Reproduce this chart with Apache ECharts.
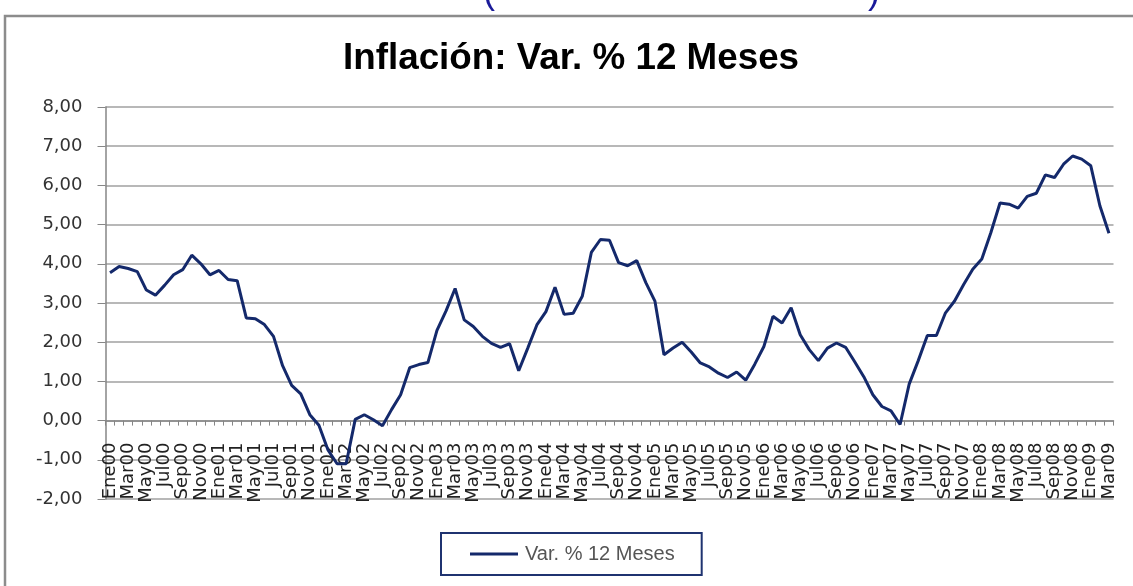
<!DOCTYPE html>
<html>
<head>
<meta charset="utf-8">
<title>Inflación: Var. % 12 Meses</title>
<script src="https://cdn.jsdelivr.net/npm/echarts@6/dist/echarts.min.js"></script>
<style>
  html, body { margin: 0; padding: 0; background: #fff; }
  #main { width: 1133px; height: 586px; }
</style>
</head>
<body>
<div id="main"></div>
<script>
// meses (etiquetas del eje x)
var meses = ["Ene", "Feb", "Mar", "Abr", "May", "Jun", "Jul", "Ago", "Sep", "Oct", "Nov", "Dic"];
var anios = ["00", "01", "02", "03", "04", "05", "06", "07", "08", "09"];

// variacion % 12 meses, un arreglo por año
var v2000 = [3.77, 3.93, 3.88, 3.80, 3.33, 3.20, 3.45, 3.72, 3.85, 4.22, 4.00, 3.72];
var v2001 = [3.83, 3.60, 3.57, 2.62, 2.60, 2.45, 2.15, 1.40, 0.90, 0.68, 0.15, -0.12];
var v2002 = [-0.75, -1.10, -1.10, 0.03, 0.15, 0.02, -0.13, 0.28, 0.66, 1.35, 1.43, 1.48];
var v2003 = [2.30, 2.80, 3.37, 2.57, 2.40, 2.15, 1.97, 1.87, 1.96, 1.27, 1.85, 2.44];
var v2004 = [2.78, 3.40, 2.71, 2.74, 3.17, 4.29, 4.62, 4.60, 4.03, 3.95, 4.08, 3.52];
var v2005 = [3.05, 1.68, 1.85, 2.00, 1.75, 1.47, 1.37, 1.21, 1.10, 1.24, 1.03, 1.44];
var v2006 = [1.89, 2.66, 2.49, 2.88, 2.19, 1.81, 1.53, 1.85, 1.98, 1.87, 1.50, 1.12];
var v2007 = [0.66, 0.36, 0.25, -0.10, 0.93, 1.53, 2.17, 2.17, 2.75, 3.05, 3.47, 3.86];
var v2008 = [4.12, 4.80, 5.55, 5.52, 5.42, 5.72, 5.80, 6.27, 6.20, 6.54, 6.75, 6.67];
var v2009 = [6.50, 5.48, 4.78];

var yTicks = [-2, -1, 0, 1, 2, 3, 4, 5, 6, 7, 8];

var valores = [].concat(v2000, v2001, v2002, v2003, v2004, v2005, v2006, v2007, v2008, v2009);
var categorias = [];
for (var i = 0; i < valores.length; i++) {
  categorias.push(meses[i % 12] + anios[Math.floor(i / 12)]);
}

// alto del grid y desplazamiento del eje x hasta el 0
var gridTop = 107;
var gridBottom = 87;
var gridHeight = 586 - gridTop - gridBottom;
var ejeOffset = -gridHeight * (0 - yTicks[0]) / (yTicks[yTicks.length - 1] - yTicks[0]);

var myecharts = echarts.init(document.getElementById("main"));
var Option = {
  animation: false,
  backgroundColor: "#fff",
  title: {
    text: "Inflación: Var. % 12 Meses",
    left: 338,
    top: 35,
    textStyle: {
      fontFamily: "Liberation Sans",
      fontSize: 36.8,
      fontWeight: "bold",
      color: "#000"
    }
  },
  // marco del grafico y parentesis cortados arriba
  graphic: [
    {
      type: "rect",
      shape: { x: 5, y: 16, width: 1200, height: 700 },
      style: { fill: "none", stroke: "#8c8c8c", lineWidth: 2.5 },
      silent: true
    },
    {
      type: "text",
      x: 483,
      y: 11,
      style: { text: "(", font: "36px Liberation Sans", fill: "#1a1a99", textVerticalAlign: "bottom" }
    },
    {
      type: "text",
      x: 868,
      y: 11,
      style: { text: ")", font: "36px Liberation Sans", fill: "#1a1a99", textVerticalAlign: "bottom" }
    }
  ],
  legend: {
    left: 441,
    top: 533,
    data: ["Var. % 12 Meses"],
    icon: "rect",
    itemWidth: 48,
    itemHeight: 3,
    itemGap: 0,
    padding: [11, 27, 11, 29],
    borderColor: "#1f3370",
    borderWidth: 2,
    textStyle: {
      fontFamily: "Liberation Sans",
      fontSize: 20,
      color: "#555",
      padding: [0, 0, 0, 2]
    }
  },
  grid: {
    left: 105.5,
    right: 19.5,
    top: gridTop,
    bottom: gridBottom,
    containLabel: false
  },
  xAxis: {
    type: "category",
    data: categorias,
    boundaryGap: true,
    offset: ejeOffset,
    axisLine: {
      onZero: false,
      lineStyle: { color: "#868686", width: 1.5 }
    },
    axisTick: {
      show: true,
      interval: 0,
      length: 5,
      lineStyle: { color: "#868686" }
    },
    axisLabel: {
      interval: 1,
      rotate: 90,
      margin: 22,
      fontFamily: "DejaVu Sans",
      fontSize: 18,
      color: "#222"
    },
    splitLine: { show: false }
  },
  yAxis: {
    type: "value",
    min: yTicks[0],
    max: yTicks[yTicks.length - 1],
    interval: 1,
    axisLine: {
      show: true,
      lineStyle: { color: "#868686", width: 1.5 }
    },
    axisTick: {
      show: true,
      length: 8,
      lineStyle: { color: "#868686" }
    },
    axisLabel: {
      margin: 23,
      fontFamily: "DejaVu Sans",
      fontSize: 18,
      color: "#333",
      formatter: function(v) {
        return v.toFixed(2).replace(".", ",");
      }
    },
    splitLine: {
      show: true,
      lineStyle: { color: "#a0a0a0", width: 1.5 }
    }
  },
  series: [
    {
      name: "Var. % 12 Meses",
      type: "line",
      data: valores,
      symbol: "none",
      smooth: false,
      itemStyle: { color: "#14296b" },
      lineStyle: { color: "#14296b", width: 3 }
    }
  ]
};
myecharts.setOption(Option);
</script>
</body>
</html>
